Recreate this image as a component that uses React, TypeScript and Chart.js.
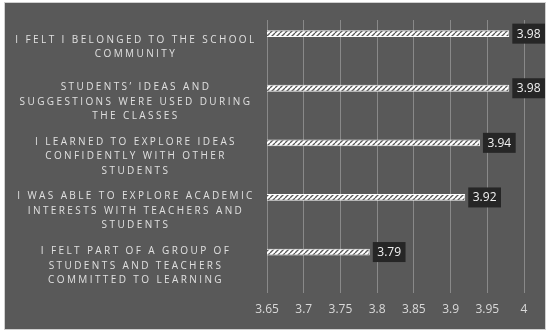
import React, { useEffect, useRef } from "react";
import { Chart, registerables, CategoryScale } from "chart.js";

Chart.register(...registerables);

const categories: string[][] = [
  ["I FELT I BELONGED TO THE SCHOOL", "COMMUNITY"],
  ["STUDENTS’ IDEAS AND", "SUGGESTIONS WERE USED DURING", "THE CLASSES"],
  ["I LEARNED TO EXPLORE IDEAS", "CONFIDENTLY WITH OTHER", "STUDENTS"],
  ["I WAS ABLE TO EXPLORE ACADEMIC", "INTERESTS WITH TEACHERS AND", "STUDENTS"],
  ["I FELT PART OF A GROUP OF", "STUDENTS AND TEACHERS", "COMMITTED TO LEARNING"],
];
const meanScores: number[] = [3.98, 3.98, 3.94, 3.92, 3.79];
const blankSeries: (number | null)[] = [null, null, null, null, null];
const xMin = 3.65;
const xMax = 4;
const xStep = 0.05;

const BG = "#595959";
const LETTER_SPACING = "2.4px";

class SpacedCategoryScale extends CategoryScale {
  static id = "spacedCategory";
  static defaults = CategoryScale.defaults;
  _getYAxisLabelAlignment() {
    return { textAlign: "center", x: (this.left + this.right) / 2 };
  }
  drawLabels(area: any) {
    const ctx: any = this.ctx;
    const prev = ctx.letterSpacing;
    ctx.letterSpacing = LETTER_SPACING;
    super.drawLabels(area);
    ctx.letterSpacing = prev || "0px";
  }
}
Chart.register(SpacedCategoryScale as any);

function makePattern(): CanvasPattern | string {
  const s = 5;
  const c = document.createElement("canvas");
  c.width = s;
  c.height = s;
  const g = c.getContext("2d");
  if (!g) return "#ffffff";
  g.fillStyle = "#ffffff";
  g.fillRect(0, 0, s, s);
  g.strokeStyle = BG;
  g.lineWidth = 1.3;
  for (let k = -1; k <= 1; k++) {
    g.beginPath();
    g.moveTo(k * s, s);
    g.lineTo(k * s + s, 0);
    g.stroke();
  }
  return g.createPattern(c, "repeat") || "#ffffff";
}

const bgPlugin = {
  id: "bgFill",
  beforeDraw(chart: any) {
    const { ctx, width, height } = chart;
    ctx.save();
    ctx.fillStyle = BG;
    ctx.fillRect(0, 0, width, height);
    ctx.restore();
  },
};

const valueLabelPlugin = {
  id: "valueLabels",
  afterDatasetsDraw(chart: any) {
    const ctx = chart.ctx;
    const meta = chart.getDatasetMeta(0);
    ctx.save();
    ctx.font = "12px 'Open Sans', sans-serif";
    ctx.textBaseline = "middle";
    ctx.textAlign = "left";
    meta.data.forEach((el: any, i: number) => {
      const txt = String(meanScores[i]);
      const w = ctx.measureText(txt).width;
      const bx = el.x + 3;
      const bw = w + 9;
      const bh = 20;
      const by = el.y - bh / 2;
      ctx.fillStyle = "#262626";
      ctx.fillRect(bx, by, bw, bh);
      ctx.fillStyle = "#f2f2f2";
      ctx.fillText(txt, bx + 4.5, el.y + 0.5);
    });
    ctx.restore();
  },
};

export default function App() {
  const ref = useRef<HTMLCanvasElement | null>(null);
  useEffect(() => {
    if (!ref.current) return;
    const pattern = makePattern();
    const chart = new Chart(ref.current, {
      type: "bar",
      data: {
        labels: categories as any,
        datasets: [
          {
            data: meanScores,
            backgroundColor: pattern as any,
            borderColor: "#ffffff",
            borderWidth: 1,
            borderSkipped: "start",
            barPercentage: 0.25,
            categoryPercentage: 1,
          },
          {
            data: blankSeries as any,
            backgroundColor: "rgba(0,0,0,0)",
            barPercentage: 0.25,
            categoryPercentage: 1,
          },
        ],
      },
      options: {
        indexAxis: "y",
        animation: false,
        responsive: false,
        maintainAspectRatio: false,
        layout: { padding: { top: 17, right: 21, bottom: 6, left: 0 } },
        plugins: {
          legend: { display: false },
          tooltip: { enabled: false },
        },
        scales: {
          x: {
            type: "linear",
            min: xMin,
            max: xMax,
            ticks: {
              stepSize: xStep,
              color: "#d9d9d9",
              font: { family: "'Open Sans', sans-serif", size: 12 },
              padding: 9,
              callback: (v: any) => String(parseFloat(Number(v).toFixed(2))),
            },
            grid: { color: "#898989", lineWidth: 1, drawTicks: false },
            border: { display: false },
            afterFit: (s: any) => {
              s.height = 30;
              s.paddingLeft = 0;
              s.paddingRight = 0;
            },
          },
          y: {
            type: "spacedCategory" as any,
            ticks: {
              color: "#e0e0e0",
              font: { family: "'Open Sans', sans-serif", size: 10, lineHeight: 1.45 },
              padding: 0,
            },
            grid: { display: false, drawTicks: false },
            border: { display: false },
            afterFit: (s: any) => {
              s.width = 262;
              s.paddingTop = 0;
              s.paddingBottom = 0;
            },
          } as any,
        },
      },
      plugins: [bgPlugin, valueLabelPlugin],
    });
    return () => chart.destroy();
  }, []);

  return (
    <div
      style={{
        position: "fixed",
        left: 0,
        top: 0,
        width: 550,
        height: 333,
        background: "#ffffff",
      }}
    >
      <div
        style={{
          position: "absolute",
          left: 5,
          top: 3,
          width: 540,
          height: 326,
          background: BG,
          boxShadow: "0 0 0 1px #d0d0d0",
        }}
      >
        <canvas ref={ref} width={540} height={326} style={{ display: "block", width: 540, height: 326 }} />
      </div>
    </div>
  );
}
